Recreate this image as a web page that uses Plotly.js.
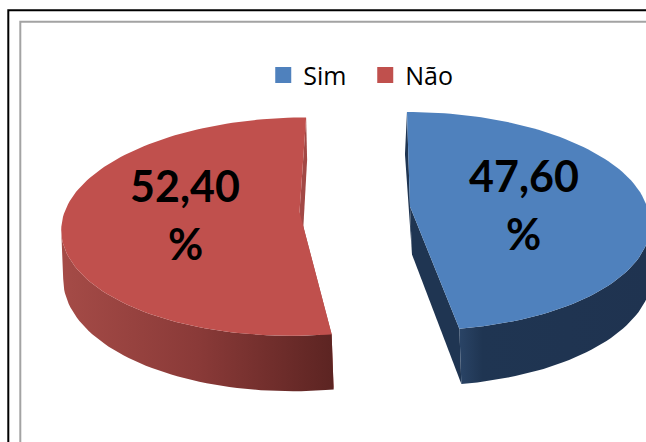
<!DOCTYPE html>
<html>
<head>
<meta charset="utf-8">
<script src="https://cdn.plot.ly/plotly-3.0.1.min.js"></script>
<style>html,body{margin:0;padding:0;background:#fff}#chart{width:646px;height:442px}</style>
</head>
<body>
<div id="chart"></div>
<script>
const categories = ["Sim", "Não"];
const values = [47.6, 52.4];
const topColors = ["#4f81bd", "#c0504d"];
const cutColors = ["#1f3552", "#a24845"];
const wallScales = [
  [[0, "#2a4466"], [0.12, "#1f3552"], [1, "#1f3350"]],
  [[0, "#a54b47"], [0.5, "#8a3a38"], [1, "#5c2422"]]
];

// projection of the tilted, exploded pie
const view = {x0: 355.5, b: 107.2, persp: 0.134, depth: 48, labelR: 0.485, lineGap: 29};
const sliceView = [
  {side: 1, a: 237, explode: 54.5, cy: 206.5, backShift: 3.4, labelDy: 1.5},
  {side: -1, a: 235, explode: 56, cy: 212, backShift: 0, labelDy: -1.5}
];

function project(i, X, Y, lower) {
  const s = sliceView[i], w = 1 + view.persp * Y;
  let x = view.x0 + (s.a * X + s.side * s.explode) / w + s.backShift * Math.max(Y, 0);
  let y = s.cy - view.b * Y / w;
  if (lower) {
    x += 2 - (s.side > 0 ? 4 * Math.max(Y, 0) : Math.max(Y, 0));
    y += view.depth / w;
  }
  return [x, y];
}
const total = values.reduce((p, c) => p + c, 0);
function arc(i, from, to, r, lower) {
  const n = Math.ceil(Math.abs(to - from) / 0.03), pts = [];
  for (let k = 0; k <= n; k++) {
    const t = from + (to - from) * k / n;
    pts.push(project(i, r * Math.sin(t), r * Math.cos(t), lower));
  }
  return pts;
}
function poly(pts, color, extra) {
  return Object.assign({
    type: "scatter", mode: "lines", x: pts.map(p => p[0]), y: pts.map(p => p[1]),
    fill: "toself", fillcolor: color, line: {width: 0, color: color},
    hoverinfo: "skip", showlegend: false
  }, extra || {});
}

const traces = [], annotations = [];
let start = 0;
const ranges = values.map(v => { const r = [start, start + v / total * 2 * Math.PI]; start = r[1]; return r; });

// draw the walls, then the top faces
[1, 0].forEach(i => {
  const [a0, a1] = ranges[i];
  const C = project(i, 0, 0, false), Cl = project(i, 0, 0, true);
  // cut walls
  [a0, a1].forEach(t => {
    const P = project(i, Math.sin(t), Math.cos(t), false), Pl = project(i, Math.sin(t), Math.cos(t), true);
    traces.push(poly([C, P, Pl, Cl, C], cutColors[i]));
  });
  // outer wall: only from the front cut to the widest point of the arc
  const front = i === 0 ? a1 : a0;
  const all = arc(i, a0, a1, 1, false);
  let best = 0;
  all.forEach((p, k) => { if (Math.abs(p[0] - view.x0) > Math.abs(all[best][0] - view.x0)) best = k; });
  const wide = a0 + (a1 - a0) * best / (all.length - 1);
  const top = arc(i, front, wide, 1, false), low = arc(i, front, wide, 1, true).reverse();
  const wall = top.concat(low); wall.push(top[0]);
  traces.push(poly(wall, cutColors[i], {
    fillgradient: {type: "horizontal", colorscale: wallScales[i]}
  }));
});
[1, 0].forEach(i => {
  const [a0, a1] = ranges[i];
  const C = project(i, 0, 0, false);
  traces.push(poly([C].concat(arc(i, a0, a1, 1, false)).concat([C]), topColors[i]));
  const mid = (a0 + a1) / 2;
  const L = project(i, view.labelR * Math.sin(mid), view.labelR * Math.cos(mid), false);
  const txt = values[i].toFixed(2).replace(".", ",");
  [[txt, -1], ["%", 1]].forEach(([t, d]) => annotations.push({
    x: L[0], y: L[1] + sliceView[i].labelDy + d * view.lineGap, xref: "x", yref: "y", text: t, showarrow: false,
    xanchor: "center", yanchor: "middle",
    font: {family: "Lato, 'Open Sans', sans-serif", size: 43, color: "#000", weight: 700}
  }));
});
// legend entries
categories.forEach((c, i) => traces.push({
  type: "scatter", mode: "markers", name: c, x: [null], y: [null],
  marker: {symbol: "square", size: 16, color: topColors[i]}, hoverinfo: "skip"
}));

const layout = {
  width: 646, height: 442, margin: {l: 0, r: 0, t: 0, b: 0},
  paper_bgcolor: "#fff", plot_bgcolor: "#fff",
  xaxis: {range: [0, 646], visible: false, fixedrange: true},
  yaxis: {range: [442, 0], visible: false, fixedrange: true},
  showlegend: true,
  legend: {orientation: "h", x: 0.4075, xanchor: "left", y: 0.83, yanchor: "middle",
           font: {family: "'Open Sans', sans-serif", size: 25, color: "#000"},
           itemwidth: 30, entrywidth: 57, entrywidthmode: "pixels",
           bgcolor: "rgba(0,0,0,0)", traceorder: "normal"},
  annotations: annotations,
  shapes: [
    {type: "path", path: "M 8.3 442 L 8.3 10.2 L 646 10.2", line: {color: "#000", width: 2}, xref: "x", yref: "y"},
    {type: "path", path: "M 20.3 442 L 20.3 21.8 L 646 21.8", line: {color: "#a3a3a3", width: 2}, xref: "x", yref: "y"}
  ]
};
Plotly.newPlot("chart", traces, layout, {displayModeBar: false, staticPlot: true});
</script>
</body>
</html>
